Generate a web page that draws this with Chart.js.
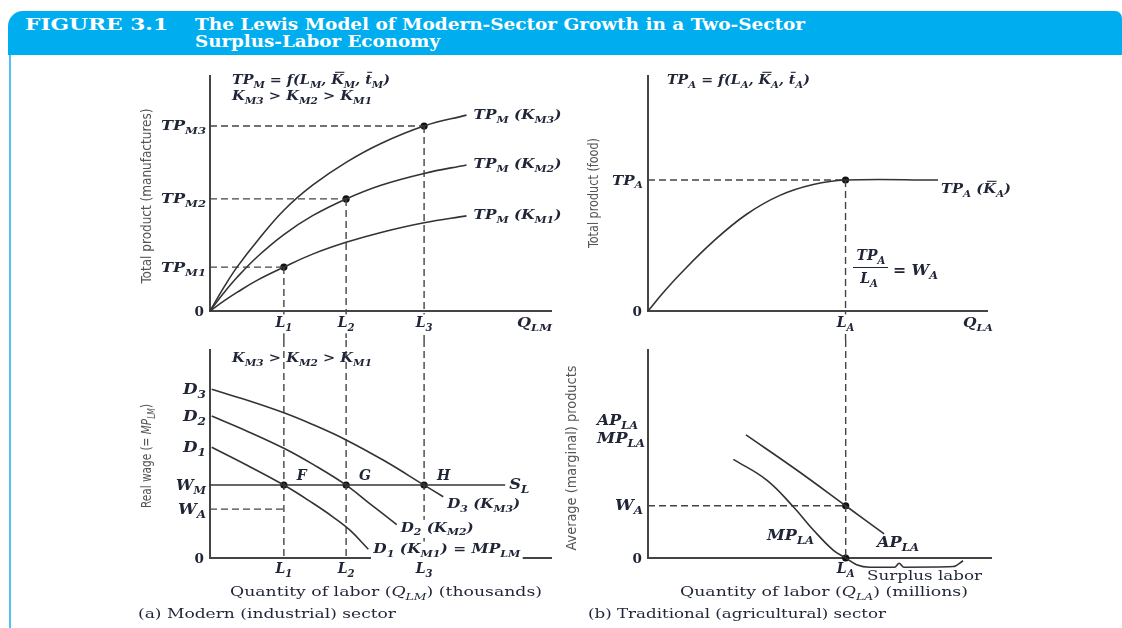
<!DOCTYPE html>
<html><head><meta charset="utf-8">
<script src="https://cdn.jsdelivr.net/npm/chart.js@4.4.1/dist/chart.umd.min.js"></script>
<style>
html,body{margin:0;padding:0;background:#fff;}
body{width:1122px;height:628px;position:relative;overflow:hidden;}
#band{position:absolute;left:8px;top:11px;width:1114px;height:44px;background:#00aeef;border-radius:15px 7px 0 0;}
#rule{position:absolute;left:8.5px;top:55px;width:2.5px;height:573px;background:#4fc3f4;}
.h{position:absolute;color:#fff;font-family:"DejaVu Serif","Liberation Serif",serif;font-weight:bold;font-size:16.5px;line-height:17px;white-space:nowrap;transform-origin:0 50%;}
#fig{left:25px;top:16px;}
#t1{left:195px;top:16px;}
#t2{left:195px;top:33px;}
canvas{position:absolute;left:0;top:0;}
</style></head><body>
<div id="band"></div><div id="rule"></div>
<span class="h" id="fig">FIGURE 3.1</span>
<span class="h" id="t1">The Lewis Model of Modern-Sector Growth in a Two-Sector</span>
<span class="h" id="t2">Surplus-Labor Economy</span>
<canvas id="p1" width="1122" height="628"></canvas>
<canvas id="p2" width="1122" height="628"></canvas>
<canvas id="p3" width="1122" height="628"></canvas>
<canvas id="p4" width="1122" height="628"></canvas>
<script>
// ================= DATA =================
// (a) upper panel: total product of manufactures vs. labor
const laborM  = [0, 4, 8, 14, 21.6, 30, 39.8, 50, 62.6, 75];
const tpmK1   = [0, 4.2, 8, 13.2, 18.6, 24.1, 29.1, 33.3, 37.4, 40.3];
const tpmK2   = [0, 7.6, 14.4, 23.2, 32.4, 40.4, 47.5, 53.3, 58.3, 61.9];
const tpmK3   = [0, 9.9, 18.8, 30, 42.7, 53.3, 63, 71, 78.4, 83];
const laborLevels = [21.6, 39.8, 62.6];          // L1, L2, L3
const tpmLevels   = [18.6, 47.5, 78.4];          // TP_M1, TP_M2, TP_M3
const laborTicks  = ['L_{1}', 'L_{2}', 'L_{3}'];
const tpmTicks    = ['TP_{M1}', 'TP_{M2}', 'TP_{M3}'];
const tpmCurveNames = ['TP_{M} (K_{M1})', 'TP_{M} (K_{M2})', 'TP_{M} (K_{M3})'];

// (b) upper panel: total product of food vs. labor
const laborA = [0, 4.5, 9.4, 19.2, 29, 38.8, 48.6, 58.1, 85.3];
const tpA    = [0, 7.8, 15.6, 29.5, 41, 49, 53.6, 55.5, 55.5];
const laborAPoint = 58.1;                          // L_A
const tpAPoint    = 55.5;                          // TP_A

// (a) lower panel: labor demand curves and supply
const d1X = [0.5, 10.7, 21.6, 30, 36, 41, 46.3];
const d1Y = [53, 44.5, 34.9, 26.3, 19.6, 13.2, 4.2];
const d2X = [0.5, 10.7, 21.6, 30, 39.8, 46.8, 54.6];
const d2Y = [67.9, 60.8, 52.5, 44.9, 34.9, 25.9, 16];
const d3X = [0.5, 10.7, 21.6, 30, 39.8, 51, 62.6, 68.2];
const d3Y = [80.7, 75.6, 69.5, 63.9, 56.5, 46.5, 34.9, 29.3];
const wageM = 34.9, wageA = 23.4, supplyEnd = 86.3;
const demandTicks = ['D_{1}', 'D_{2}', 'D_{3}'];
const eqNames = ['F', 'G', 'H'];

// (b) lower panel: average and marginal products
const apX = [28.8, 43.7, 58.1, 69.4];
const apY = [58.9, 42.1, 25, 11.5];
const mpX = [25.1, 34.9, 42.7, 48.6, 54.4, 58.1];
const mpY = [47.2, 37.3, 24.5, 13.4, 3.8, 0];
const surplusX = [58.1, 61.3, 65.2, 72.5, 73.8, 75.2, 89.7, 92.6];
const surplusY = [0, -3.2, -4.4, -4.4, -2.5, -4.4, -4.1, -1.3];
const wageAgr = 25;

// ================= HELPERS =================
const W = 1122, H = 628;
const INK = '#333', AXIS = '#444', TXT = '#1f2536', GRAY = '#555';
const SERIF = '"DejaVu Serif","Liberation Serif",serif';
const NARROW = '"Liberation Sans Narrow","DejaVu Sans Condensed","Liberation Sans",sans-serif';

function pts(xs, ys) { return xs.map((x, i) => ({ x, y: ys[i] })); }
function curve(xs, ys, o) {
  return Object.assign({ data: pts(xs, ys), borderColor: INK, borderWidth: 1.6, pointRadius: 0,
    fill: false, tension: 0.4, clip: false }, o || {});
}
function dash(xs, ys) {
  return { data: pts(xs, ys), borderColor: AXIS, borderWidth: 1.4, borderDash: [7, 4], pointRadius: 0,
    fill: false, tension: 0, clip: false };
}
function dots(xs, ys) {
  return { data: pts(xs, ys), showLine: false, pointRadius: 3.6, pointBackgroundColor: '#111',
    pointBorderWidth: 0, clip: false };
}

function parseRich(s) {
  const segs = []; let buf = '', i = 0;
  while (i < s.length) {
    const ch = s[i];
    if ((ch === '_' || ch === '~' || ch === '*') && s[i + 1] === '{') {
      if (buf) { segs.push({ t: buf }); buf = ''; }
      const j = s.indexOf('}', i);
      segs.push({ t: s.slice(i + 2, j), sub: ch === '_', over: ch === '~', it: ch === '*' });
      i = j + 1;
    } else { buf += ch; i++; }
  }
  if (buf) segs.push({ t: buf });
  return segs;
}
function rich(ctx, s, x, y, o) {
  const size = o.size || 13, fam = o.family || SERIF, wt = o.weight || 'normal';
  let prevIt = !!o.italic;
  const items = parseRich(s).map(sg => {
    const it = sg.sub ? prevIt : (sg.it ? true : !!o.italic);
    if (!sg.sub) prevIt = it;
    const sz = sg.sub ? size * 0.72 : size;
    const font = (it ? 'italic ' : '') + wt + ' ' + sz + 'px ' + fam;
    ctx.font = font;
    return Object.assign({}, sg, { font, w: ctx.measureText(sg.t).width, dy: sg.sub ? size * 0.3 : 0, sz });
  });
  const total = items.reduce((a, b) => a + b.w, 0);
  const sx = o.w ? o.w / total : 1;
  ctx.save();
  ctx.translate(x, y);
  if (o.rot) ctx.rotate(o.rot);
  ctx.scale(sx, 1);
  let cx = o.align === 'center' ? -total / 2 : o.align === 'right' ? -total : 0;
  if (o.bg) { ctx.fillStyle = '#fff'; ctx.fillRect(cx - 2, -size * 0.9, total + 4, size * 1.35); }
  ctx.fillStyle = o.color || TXT; ctx.strokeStyle = o.color || TXT;
  ctx.textBaseline = 'alphabetic'; ctx.textAlign = 'left';
  items.forEach(it => {
    ctx.font = it.font;
    ctx.fillText(it.t, cx, it.dy);
    if (it.over) {
      ctx.lineWidth = 1.1; ctx.beginPath();
      ctx.moveTo(cx + it.w * 0.3, -size * 0.9); ctx.lineTo(cx + it.w * 1.05, -size * 0.9); ctx.stroke();
    }
    cx += it.w;
  });
  ctx.restore();
}
const mth = o => Object.assign({ size: 13, italic: true, weight: 'bold' }, o);
const txt = o => Object.assign({ size: 13.5 }, o);
const ttl = o => Object.assign({ size: 13.5, family: NARROW, color: GRAY, rot: -Math.PI / 2, align: 'center' }, o);

const axesPlugin = {
  id: 'axesLines',
  beforeDatasetsDraw(c) {
    const { ctx } = c, xs = c.scales.x, ys = c.scales.y;
    ctx.save(); ctx.strokeStyle = AXIS; ctx.lineWidth = 2;
    ctx.beginPath();
    ctx.moveTo(xs.getPixelForValue(0), ys.getPixelForValue(ys.max));
    ctx.lineTo(xs.getPixelForValue(0), ys.getPixelForValue(0));
    ctx.lineTo(xs.getPixelForValue(xs.max), ys.getPixelForValue(0));
    ctx.stroke(); ctx.restore();
  }
};

function mk(id, area, xMax, datasets, draw) {
  return new Chart(document.getElementById(id), {
    type: 'line',
    data: { datasets },
    options: {
      responsive: false, animation: false, devicePixelRatio: 1, events: [],
      layout: { padding: { left: area[0], top: area[1], right: W - area[2], bottom: H - area[3] } },
      scales: {
        x: { type: 'linear', min: 0, max: xMax, display: false },
        y: { type: 'linear', min: 0, max: 100, display: false }
      },
      plugins: { legend: { display: false }, tooltip: { enabled: false } }
    },
    plugins: [axesPlugin, { id: 'labels', afterDatasetsDraw: draw }]
  });
}
function px(c) {
  return [v => c.scales.x.getPixelForValue(v), v => c.scales.y.getPixelForValue(v)];
}

// ================= PANEL (a) upper =================
const ds1 = [
  curve(laborM, tpmK1), curve(laborM, tpmK2), curve(laborM, tpmK3)
];
laborLevels.forEach((L, i) => {
  ds1.push(dash([0, L], [tpmLevels[i], tpmLevels[i]]));
  ds1.push(dash([L, L], [tpmLevels[i], -12.3]));
});
ds1.push(dots(laborLevels, tpmLevels));
mk('p1', [210, 75, 552, 311], 100, ds1, c => {
  const ctx = c.ctx, [X, Y] = px(c);
  rich(ctx, 'TP_{M} = f(L_{M}, ~{K}_{M}, ~{t}_{M})', 232, 84, mth({ w: 158 }));
  rich(ctx, 'K_{M3} > K_{M2} > K_{M1}', 232, 100, mth({ w: 140 }));
  tpmTicks.forEach((t, i) => rich(ctx, t, X(0) - 4, Y(tpmLevels[i]) + 4.5, mth({ align: 'right', w: 45 })));
  rich(ctx, '0', X(0) - 6, Y(0) + 4.5, txt({ align: 'right', weight: 'bold' }));
  laborTicks.forEach((t, i) => rich(ctx, t, X(laborLevels[i]), Y(0) + 16, mth({ size: 14, align: 'center', bg: true })));
  rich(ctx, 'Q_{LM}', 517, Y(0) + 16, mth({ w: 35 }));
  const ends = [tpmK1, tpmK2, tpmK3].map(a => a[a.length - 1]);
  tpmCurveNames.forEach((t, i) => rich(ctx, t, X(laborM[laborM.length - 1]) + 7, Y(ends[i]) + 3.5, mth({ w: 88 })));
  rich(ctx, 'Total product (manufactures)', 151, 196, ttl({ w: 175 }));
});

// ================= PANEL (b) upper =================
const ds2 = [
  curve(laborA, tpA),
  dash([0, laborAPoint], [tpAPoint, tpAPoint]),
  dash([laborAPoint, laborAPoint], [tpAPoint, -12.3]),
  dots([laborAPoint], [tpAPoint])
];
mk('p2', [648, 75, 988, 311], 100, ds2, c => {
  const ctx = c.ctx, [X, Y] = px(c);
  rich(ctx, 'TP_{A} = f(L_{A}, ~{K}_{A}, ~{t}_{A})', 667, 84, mth({ w: 143 }));
  rich(ctx, 'TP_{A}', X(0) - 5, Y(tpAPoint) + 4.5, mth({ align: 'right', w: 31 }));
  rich(ctx, '0', X(0) - 6, Y(0) + 4.5, txt({ align: 'right', weight: 'bold' }));
  rich(ctx, 'L_{A}', X(laborAPoint), Y(0) + 16, mth({ size: 14, align: 'center', bg: true }));
  rich(ctx, 'Q_{LA}', 963, Y(0) + 16, mth({ w: 30 }));
  rich(ctx, 'TP_{A} (~{K}_{A})', X(laborA[laborA.length - 1]) + 3, Y(tpAPoint) + 13, mth({ w: 70 }));
  rich(ctx, 'TP_{A}', 871, 260, mth({ size: 14, align: 'center' }));
  ctx.save(); ctx.strokeStyle = TXT; ctx.lineWidth = 1.2;
  ctx.beginPath(); ctx.moveTo(853, 267.5); ctx.lineTo(888, 267.5); ctx.stroke(); ctx.restore();
  rich(ctx, 'L_{A}', 869, 283, mth({ size: 14, align: 'center' }));
  rich(ctx, '= W_{A}', 893, 275, mth({ size: 14, w: 45 }));
  rich(ctx, 'Total product (food)', 598, 193, ttl({ w: 110 }));
});

// ================= PANEL (a) lower =================
const ds3 = [
  curve(d1X, d1Y), curve(d2X, d2Y), curve(d3X, d3Y),
  curve([0, supplyEnd], [wageM, wageM], { tension: 0 }),
  dash([0, laborLevels[0]], [wageA, wageA]),
  dash([laborLevels[0], laborLevels[0]], [104.3, 0]),
  dash([laborLevels[1], laborLevels[1]], [104.3, 0]),
  dash([laborLevels[2], laborLevels[2]], [104.3, 0]),
  dots(laborLevels, [wageM, wageM, wageM])
];
mk('p3', [210, 349, 552, 558], 100, ds3, c => {
  const ctx = c.ctx, [X, Y] = px(c);
  rich(ctx, 'K_{M3} > K_{M2} > K_{M1}', 232, 362, mth({ w: 140 }));
  [d1Y[0], d2Y[0], d3Y[0]].forEach((v, i) => rich(ctx, demandTicks[i], X(0) - 4, Y(v) + 4.5, mth({ size: 14, align: 'right', w: 23 })));
  rich(ctx, 'W_{M}', X(0) - 4, Y(wageM) + 4.5, mth({ size: 14, align: 'right', w: 30 }));
  rich(ctx, 'W_{A}', X(0) - 4, Y(wageA) + 4.5, mth({ size: 14, align: 'right', w: 28 }));
  rich(ctx, '0', X(0) - 6, Y(0) + 4.5, txt({ align: 'right', weight: 'bold' }));
  laborTicks.forEach((t, i) => rich(ctx, t, X(laborLevels[i]), Y(0) + 15, mth({ size: 14, align: 'center' })));
  eqNames.forEach((t, i) => rich(ctx, t, X(laborLevels[i]) + 13, Y(wageM) - 5, mth({ size: 14 })));
  rich(ctx, 'S_{L}', X(supplyEnd) + 4, Y(wageM) + 3.5, mth({ size: 14, w: 20 }));
  rich(ctx, 'D_{3} (K_{M3})', X(d3X[d3X.length - 1]) + 4, Y(d3Y[d3Y.length - 1]) + 11, mth({ w: 73, bg: true }));
  rich(ctx, 'D_{2} (K_{M2})', X(d2X[d2X.length - 1]) + 4, Y(d2Y[d2Y.length - 1]) + 7, mth({ w: 73, bg: true }));
  rich(ctx, 'D_{1} (K_{M1}) = MP_{LM}', X(d1X[d1X.length - 1]) + 5, Y(d1Y[d1Y.length - 1]) + 4, mth({ w: 147, bg: true }));
  rich(ctx, 'Quantity of labor (*{Q}_{LM}) (thousands)', 230, 596, txt({ w: 312 }));
  rich(ctx, '(a) Modern (industrial) sector', 138, 618, txt({ w: 258 }));
  rich(ctx, 'Real wage (= *{MP}_{LM})', 151, 456, ttl({ w: 104 }));
});

// ================= PANEL (b) lower =================
const ds4 = [
  curve(apX, apY), curve(mpX, mpY), curve(surplusX, surplusY, { tension: 0, cubicInterpolationMode: 'monotone' }),
  dash([0, laborAPoint], [wageAgr, wageAgr]),
  dash([laborAPoint, laborAPoint], [104.3, 0]),
  dots([laborAPoint, laborAPoint], [wageAgr, 0])
];
mk('p4', [648, 349, 992, 558], 101.1, ds4, c => {
  const ctx = c.ctx, [X, Y] = px(c);
  rich(ctx, 'AP_{LA}', 597, 425, mth({ size: 14, w: 41 }));
  rich(ctx, 'MP_{LA}', 597, 443, mth({ size: 14, w: 48 }));
  rich(ctx, 'W_{A}', X(0) - 5, Y(wageAgr) + 4.5, mth({ size: 14, align: 'right', w: 28 }));
  rich(ctx, '0', X(0) - 6, Y(0) + 4.5, txt({ align: 'right', weight: 'bold' }));
  rich(ctx, 'MP_{LA}', 767, 540, mth({ size: 14, w: 47 }));
  rich(ctx, 'AP_{LA}', 877, 547, mth({ size: 14, w: 42 }));
  rich(ctx, 'L_{A}', X(laborAPoint), 573, mth({ size: 14, align: 'center' }));
  rich(ctx, 'Surplus labor', 867, 580, txt({ w: 115 }));
  rich(ctx, 'Quantity of labor (*{Q}_{LA}) (millions)', 680, 596, txt({ w: 288 }));
  rich(ctx, '(b) Traditional (agricultural) sector', 588, 618, txt({ w: 298 }));
  rich(ctx, 'Average (marginal) products', 576, 458, ttl({ w: 185 }));
});

// ================= HEADER FIT =================
function fit(id, target) {
  const el = document.getElementById(id);
  const w = el.getBoundingClientRect().width;
  el.style.transform = 'scaleX(' + (target / w) + ')';
}
fit('fig', 143); fit('t1', 610); fit('t2', 245);
</script>
</body></html>
